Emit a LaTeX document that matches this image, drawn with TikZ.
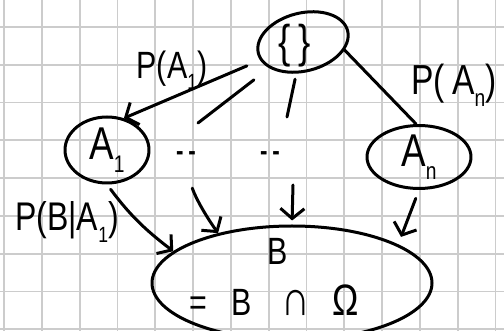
\documentclass[tikz,border=0pt]{standalone}
\usepackage{fontspec}
\setmainfont{Liberation Sans}
\newfontfamily\hand[FakeStretch=0.8]{Liberation Sans}
\usetikzlibrary{arrows.meta,shapes.geometric}

\begin{document}
\begin{tikzpicture}[x=1pt,y=-1pt,
  ink/.style={line width=3pt, line cap=round, line join=round},
  bubble/.style={ink, draw, ellipse, inner sep=0pt},
  lbl/.style={font=\hand\fontsize{#1}{#1}\selectfont, inner sep=0pt},
  arr/.style={ink, -{Straight Barb[length=10pt,width=24pt]}},
  gridline/.style={line width=1.8pt, draw=black!20}]

% squared paper
\fill[white] (0,0) rectangle (504,331);
\useasboundingbox (0,0) rectangle (504,331);
\foreach \i in {0,...,13} \draw[gridline] (4+37.8*\i,0) -- (4+37.8*\i,331);
\foreach \j in {0,...,8} \draw[gridline] (0,27+37.8*\j) -- (504,27+37.8*\j);

% sample space and the partition
\node[bubble, minimum width=92pt, minimum height=58pt, rotate=14] (omega) at (303,42) {};
\node[lbl=46] (omegaset) at (295,46) {\{\,\}};
\node[bubble, minimum width=84pt, minimum height=66pt, lbl=46] (A1) at (107,150)
  {A\raisebox{-0.28em}{\fontsize{24}{24}\selectfont 1}};
\node[bubble, minimum width=104pt, minimum height=58pt, lbl=46] (An) at (419,157)
  {A\raisebox{-0.28em}{\fontsize{24}{24}\selectfont n}};
\node[lbl=28] (dotsL) at (186,156) {\bfseries -\,-};
\node[lbl=28] (dotsR) at (270,156) {\bfseries -\,-};

% the event B
\node[bubble, minimum width=280pt, minimum height=114pt] (B) at (292,283) {};
\node[lbl=38] (Bname) at (278,251) {B};
\node[lbl=38, anchor=base] (Beq) at (274,316)
  {=\hspace{24pt}B\hspace{30pt}{\fontsize{50}{50}\selectfont ∩}\hspace{22pt}{\fontsize{44}{44}\selectfont Ω}};

% branch probabilities
\node[lbl=38] (pA1) at (172,70) {P(A\raisebox{-0.28em}{\fontsize{22}{22}\selectfont 1})};
\node[lbl=42] (pAn) at (454,85) {P(\,A\raisebox{-0.28em}{\fontsize{24}{24}\selectfont n})};
\node[lbl=40] (pBA1) at (67,222) {P(B|A\raisebox{-0.28em}{\fontsize{22}{22}\selectfont 1})};

% free ends of the middle strokes
\coordinate (cutL) at (198,123);
\coordinate (cutM) at (287,117);
\coordinate (startM) at (293,185);

% first stage: from the sample space
\draw[arr, shorten <=61pt] (omega.center) -- (A1.62);
\draw[ink, shorten <=62pt] (omega.center) -- (cutL);
\draw[ink, shorten <=38pt] (omega.center) -- (cutM);
\draw[ink] (omega.-25) -- (An.95);

% second stage: into B
\draw[arr, shorten <=6pt] (A1.-90) to[bend right=8] (B.165);
\draw[arr, shorten <=28pt] (dotsL) to[bend right=12] (B.146);
\draw[arr, shorten >=4pt] (startM) -- (B.90);
\draw[arr, shorten <=9pt, shorten >=8pt] (An.-90) -- (B.20);
\end{tikzpicture}
\end{document}
